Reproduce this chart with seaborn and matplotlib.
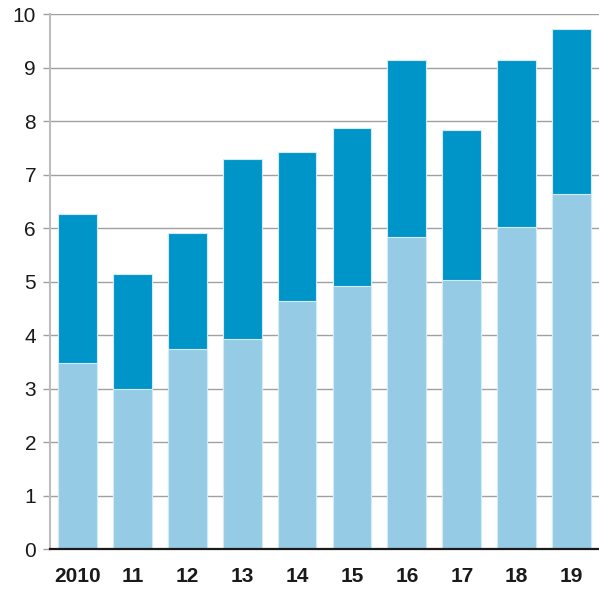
import pandas as pd
import matplotlib.pyplot as plt
import seaborn as sns

# Anos e valores
anos = ['2010', '11', '12', '13', '14', '15', '16', '17', '18', '19']
parte_inferior = [3.48, 3.00, 3.74, 3.93, 4.64, 4.92, 5.84, 5.04, 6.03, 6.64]
total = [6.27, 5.14, 5.91, 7.30, 7.42, 7.88, 9.14, 7.84, 9.15, 9.73]

dados = pd.DataFrame({'ano': anos, 'inferior': parte_inferior, 'total': total})

cor_escura = '#0095c8'
cor_clara = '#96cbe5'

sns.set_style('white')
plt.rcParams['font.family'] = ['Liberation Sans', 'DejaVu Sans']

fig = plt.figure(figsize=(5.99, 5.90), dpi=100)
ax = fig.add_axes([50 / 599, 40.7 / 590, 549 / 599, 535 / 590])

# barra total (escura) e parte inferior (clara) por cima
sns.barplot(data=dados, x='ano', y='total', color=cor_escura, saturation=1,
            width=0.705, edgecolor='#d2ebf6', linewidth=0.8, ax=ax, zorder=3)
sns.barplot(data=dados, x='ano', y='inferior', color=cor_clara, saturation=1,
            width=0.705, edgecolor='#d2ebf6', linewidth=0.8, ax=ax, zorder=3)

ax.set_ylim(0, 10)
ax.set_xlim(-0.5, 9.5)
ax.set_yticks(range(0, 11))
ax.set_xlabel('')
ax.set_ylabel('')

ax.grid(axis='y', color='#a0a0a0', linewidth=1.0, zorder=0)
ax.set_axisbelow(True)

for lado in ['top', 'right']:
    ax.spines[lado].set_visible(False)
ax.spines['left'].set_color('#bdbdbd')
ax.spines['left'].set_linewidth(1.5)
ax.spines['bottom'].set_color('#1a1a1a')
ax.spines['bottom'].set_linewidth(1.6)
ax.spines['left'].set_zorder(4)
ax.spines['bottom'].set_zorder(5)

ax.tick_params(axis='y', length=5, width=1.0, color='#a0a0a0', pad=5,
               labelsize=15, labelcolor='#1a1a1a', left=True)
ax.tick_params(axis='x', length=0, pad=13, labelsize=15, labelcolor='#1a1a1a')
for rotulo in ax.get_xticklabels():
    rotulo.set_fontweight('bold')

fig.savefig('out.png', dpi=100)
